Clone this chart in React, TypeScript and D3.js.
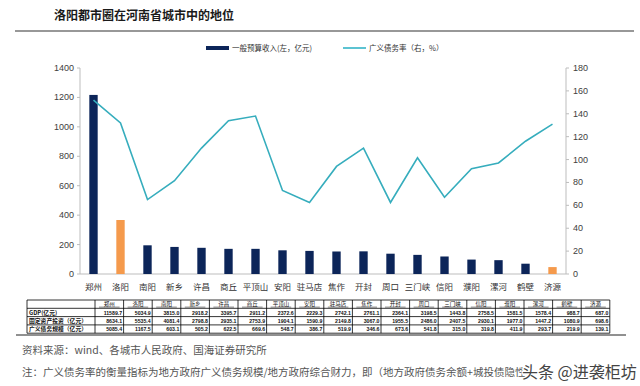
import React from "react";
import * as d3 from "d3";

const cities = ["郑州", "洛阳", "南阳", "新乡", "许昌", "商丘", "平顶山", "安阳", "驻马店", "焦作", "开封", "周口", "三门峡", "信阳", "濮阳", "漯河", "鹤壁", "济源"];
const budgetRevenue = [1217, 367, 195, 184, 178, 171, 171, 161, 157, 153, 154, 138, 130, 119, 98, 94, 70, 47];
const debtRatio = [152, 132, 65, 81.5, 110, 134, 138, 73, 62.5, 94, 110, 62.5, 101.5, 67, 92, 97, 116, 131];
const highlighted = ["洛阳", "济源"];

const leftTicks = [0, 200, 400, 600, 800, 1000, 1200, 1400];
const rightTicks = [0, 20, 40, 60, 80, 100, 120, 140, 160, 180];

const rowLabels = ["GDP(亿元)", "固定资产投资（亿元）", "广义债务规模（亿元）"];
const gdp = [11589.7, 5034.9, 3815.0, 2918.2, 3395.7, 2911.2, 2372.6, 2229.3, 2742.1, 2761.1, 2364.1, 3198.5, 1443.8, 2758.5, 1581.5, 1578.4, 988.7, 687.0];
const fixedInvestment = [8634.1, 5535.4, 4081.4, 2798.8, 2935.1, 2753.9, 1904.1, 1590.9, 2149.8, 3067.0, 1955.5, 2486.0, 2407.5, 2930.1, 1977.0, 1447.2, 1080.9, 698.6];
const debtScale = [5085.4, 1167.5, 603.1, 505.2, 622.5, 669.6, 548.7, 386.7, 519.9, 346.6, 673.6, 541.8, 315.0, 319.8, 411.9, 293.7, 219.9, 139.1];

const title = "洛阳都市圈在河南省城市中的地位";
const legendBar = "一般预算收入(左，亿元)";
const legendLine = "广义债务率（右，%）";
const source = "资料来源：wind、各城市人民政府、国海证券研究所";
const note = "注：广义债务率的衡量指标为地方政府广义债务规模/地方政府综合财力，即（地方政府债务余额+城投债隐性";
const watermark = "头条 @进袭柜坊";

const NAVY = "#0c2559";
const ORANGE = "#f59a4c";
const TEAL = "#36adbd";
const CJK = "'Noto Sans CJK SC', sans-serif";
const LATIN = "'Liberation Sans', Arial, sans-serif";

const App: React.FC = () => {
  const width = 640;
  const height = 386;
  const plot = { left: 80, right: 566, top: 68, bottom: 274 };

  const x = d3
    .scaleBand<string>()
    .domain(cities)
    .range([plot.left, plot.right])
    .paddingInner(0.69)
    .paddingOuter(0.345);
  const yLeft = d3.scaleLinear().domain([0, 1400]).range([plot.bottom, plot.top]);
  const yRight = d3.scaleLinear().domain([0, 180]).range([plot.bottom, plot.top]);

  const cx = (c: string) => (x(c) ?? 0) + x.bandwidth() / 2;

  const line = d3
    .line<number>()
    .x((_, i) => cx(cities[i]))
    .y((d) => yRight(d));

  // table layout
  const tLeft = 27;
  const labelW = 68;
  const tTop = 300;
  const rowH = 8.3;
  const cellW = 28.6;
  const tRight = tLeft + labelW + cellW * cities.length;
  const rows = [gdp, fixedInvestment, debtScale];

  return (
    <svg width={width} height={height} style={{ position: "absolute", left: 0, top: 0, background: "#fff" }}>
      <text x={54} y={20} fontFamily={CJK} fontWeight="bold" fontSize={12} fill="#1a1a1a">
        {title}
      </text>
      <line x1={15} x2={634} y1={31} y2={31} stroke="#333" strokeWidth={1.2} />

      {/* legend */}
      <rect x={206} y={46} width={23} height={4} fill={NAVY} />
      <text x={232} y={50.5} fontFamily={CJK} fontSize={7.5} fill="#333">
        {legendBar}
      </text>
      <line x1={343} x2={366} y1={48} y2={48} stroke="#5cc3d2" strokeWidth={2} />
      <text x={369} y={50.5} fontFamily={CJK} fontSize={7.5} fill="#333">
        {legendLine}
      </text>

      {/* axes */}
      <line x1={plot.left} x2={plot.left} y1={plot.top} y2={plot.bottom} stroke="#bdbdbd" />
      <line x1={plot.right} x2={plot.right} y1={plot.top} y2={plot.bottom} stroke="#bdbdbd" />
      <line x1={plot.left} x2={plot.right} y1={plot.bottom} y2={plot.bottom} stroke="#bdbdbd" />
      {leftTicks.map((t) => (
        <g key={`l${t}`}>
          <line x1={plot.left - 3} x2={plot.left} y1={yLeft(t)} y2={yLeft(t)} stroke="#bdbdbd" />
          <text x={plot.left - 6} y={yLeft(t) + 3} textAnchor="end" fontFamily={LATIN} fontSize={9} fill="#404040">
            {t}
          </text>
        </g>
      ))}
      {rightTicks.map((t) => (
        <g key={`r${t}`}>
          <line x1={plot.right} x2={plot.right + 3} y1={yRight(t)} y2={yRight(t)} stroke="#bdbdbd" />
          <text x={plot.right + 7} y={yRight(t) + 3} fontFamily={LATIN} fontSize={9} fill="#404040">
            {t}
          </text>
        </g>
      ))}

      {/* bars */}
      {cities.map((c, i) => (
        <rect
          key={c}
          x={x(c)}
          y={yLeft(budgetRevenue[i])}
          width={x.bandwidth()}
          height={plot.bottom - yLeft(budgetRevenue[i])}
          fill={highlighted.includes(c) ? ORANGE : NAVY}
        />
      ))}

      <path d={line(debtRatio) ?? ""} fill="none" stroke={TEAL} strokeWidth={1.6} />

      {cities.map((c) => (
        <text key={`x${c}`} x={cx(c)} y={290} textAnchor="middle" fontFamily={CJK} fontSize={8.5} fill="#333">
          {c}
        </text>
      ))}

      {/* table */}
      <g fontFamily={LATIN} fontSize={5.2} fontWeight="bold" fill="#111">
        {[0, 1, 2, 3, 4].map((r) => (
          <line key={`h${r}`} x1={tLeft} x2={tRight} y1={tTop + r * rowH} y2={tTop + r * rowH} stroke="#000" strokeWidth={0.8} />
        ))}
        {d3.range(cities.length + 2).map((k) => {
          const xx = k === 0 ? tLeft : tLeft + labelW + (k - 1) * cellW;
          return <line key={`v${k}`} x1={xx} x2={xx} y1={tTop} y2={tTop + 4 * rowH} stroke="#000" strokeWidth={0.8} />;
        })}
        {cities.map((c, i) => {
          const left = tLeft + labelW + i * cellW;
          return (
            <g key={`t${c}`}>
              <text x={left + cellW / 2} y={tTop + rowH - 2} textAnchor="middle" fontFamily={CJK} fontSize={5.5} fontWeight="normal">
                {c}
              </text>
              <line x1={left + 4} x2={left + cellW - 4} y1={tTop + rowH - 1.2} y2={tTop + rowH - 1.2} stroke="#111" strokeWidth={0.5} />
              {rows.map((row, r) => (
                <text key={r} x={left + cellW - 1.5} y={tTop + (r + 2) * rowH - 2} textAnchor="end">
                  {row[i].toFixed(1)}
                </text>
              ))}
            </g>
          );
        })}
        {rowLabels.map((l, r) => (
          <text key={l} x={tLeft + 2} y={tTop + (r + 2) * rowH - 2} fontFamily={CJK} fontSize={5.8}>
            {l}
          </text>
        ))}
      </g>
      <line x1={16} x2={626} y1={335} y2={335} stroke="#222" strokeWidth={1} />

      {/* notes */}
      <text x={22} y={354} fontFamily={CJK} fontSize={10.5} fill="#555">
        {source}
      </text>
      <text x={22} y={376} fontFamily={CJK} fontSize={10.5} fill="#555">
        {note}
      </text>
      <text x={522} y={378} fontFamily={CJK} fontSize={16} fill="#444" stroke="#fff" strokeWidth={2.5} paintOrder="stroke">
        {watermark}
      </text>
    </svg>
  );
};

export default App;
